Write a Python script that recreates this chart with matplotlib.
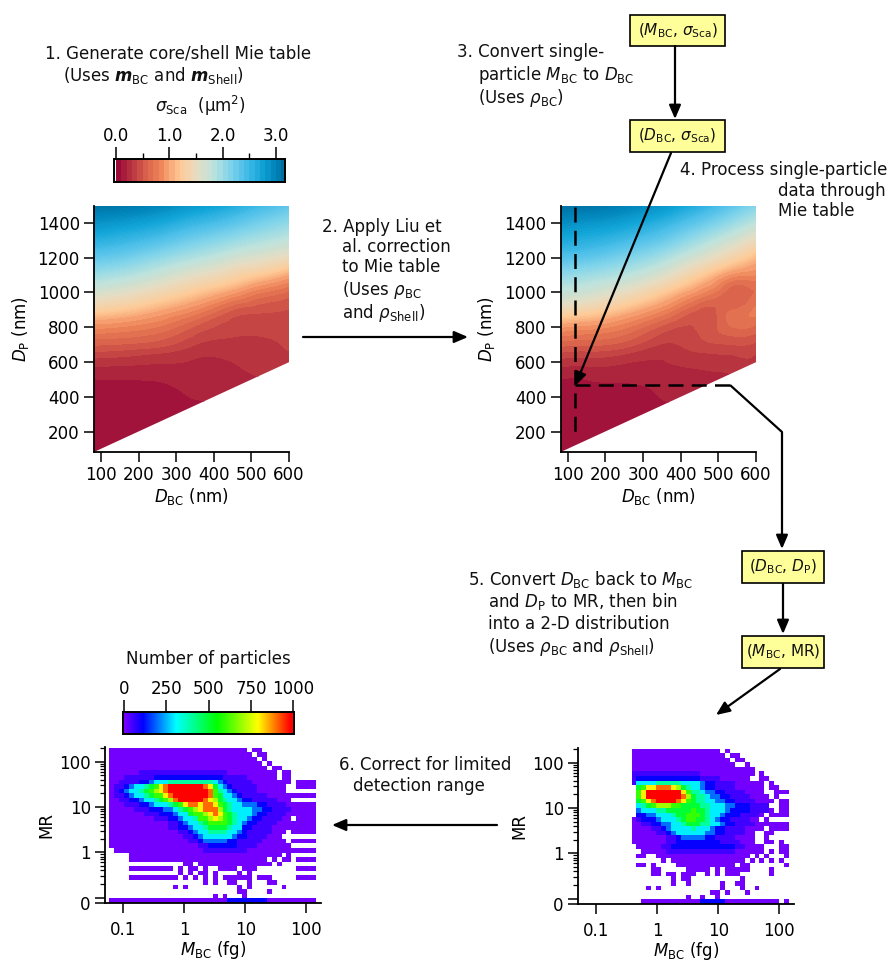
import numpy as np
import matplotlib
matplotlib.use("Agg")
import matplotlib.pyplot as plt
import matplotlib.tri as mtri
from matplotlib.colors import LinearSegmentedColormap, BoundaryNorm
from matplotlib.patches import Polygon, Rectangle

W, H = 893, 961
plt.rcParams['font.family'] = 'DejaVu Sans'
plt.rcParams['mathtext.fontset'] = 'dejavusans'
FS = 12

# ---- Mie table data: sigma_Sca
DP_ROWS = [50,100,200,300,400,450,500,550,600,650,700,750,800,900,1000,1100,1200,1300,1400,1500,1550]
DBC_LEFT = [80,150,250,350,450,520,600]
SIGMA_LEFT = [
 [0,0,0,.02,.06,.1,.12],
 [0,0,0,.02,.06,.1,.13],
 [0,0,.01,.04,.08,.11,.15],
 [.01,.01,.02,.06,.11,.13,.17],
 [.02,.02,.03,.105,.14,.16,.2],
 [.05,.05,.06,.125,.155,.18,.215],
 [.095,.1,.11,.145,.17,.195,.23],
 [.16,.16,.16,.165,.185,.215,.25],
 [.245,.235,.21,.185,.2,.235,.275],
 [.37,.35,.3,.23,.225,.255,.295],
 [.505,.49,.44,.3,.26,.275,.31],
 [.65,.63,.56,.385,.305,.3,.32],
 [.82,.79,.69,.48,.345,.335,.34],
 [1.25,1.18,1.02,.8,.5,.43,.395],
 [1.63,1.55,1.38,1.17,.93,.72,.57],
 [1.98,1.9,1.72,1.52,1.32,1.18,.98],
 [2.3,2.24,2.06,1.87,1.68,1.57,1.44],
 [2.62,2.55,2.4,2.2,2.02,1.9,1.77],
 [2.9,2.84,2.72,2.53,2.35,2.2,2.05],
 [3.15,3.13,3.02,2.85,2.67,2.5,2.32],
 [3.25,3.25,3.15,3.0,2.83,2.65,2.45],
]
DBC_RIGHT = [80,150,250,350,420,480,540,600]
SIGMA_RIGHT = [
 [0,0,0,.02,.05,.08,.1,.12],
 [0,0,0,.02,.05,.08,.1,.13],
 [0,0,.01,.04,.07,.09,.11,.15],
 [.01,.01,.02,.06,.09,.11,.14,.17],
 [.02,.02,.03,.105,.13,.15,.17,.2],
 [.05,.05,.06,.125,.15,.165,.19,.21],
 [.095,.1,.12,.15,.17,.18,.2,.24],
 [.16,.16,.16,.175,.185,.2,.22,.26],
 [.25,.24,.21,.195,.23,.25,.27,.275],
 [.38,.36,.31,.22,.275,.30,.31,.3],
 [.53,.51,.45,.29,.33,.38,.4,.37],
 [.7,.66,.58,.37,.36,.44,.5,.46],
 [.9,.85,.72,.47,.39,.46,.6,.56],
 [1.38,1.3,1.1,.82,.56,.47,.6,.72],
 [1.75,1.68,1.48,1.2,.95,.73,.52,.6],
 [2.05,1.98,1.83,1.58,1.33,1.1,.85,.8],
 [2.38,2.32,2.16,1.93,1.7,1.5,1.3,1.08],
 [2.68,2.62,2.48,2.27,2.05,1.85,1.65,1.45],
 [2.94,2.88,2.78,2.58,2.38,2.2,2.0,1.8],
 [3.17,3.15,3.05,2.88,2.7,2.52,2.32,2.12],
 [3.25,3.25,3.17,3.0,2.85,2.68,2.48,2.28],
]
SIGMA_TICKS = [0.0, 1.0, 2.0, 3.0]
COUNT_TICKS = [0, 250, 500, 750, 1000]
DBC_TICKS = [100,200,300,400,500,600]
DP_TICKS = [200,400,600,800,1000,1200,1400]

# ---- 2-D distributions: one character per bin, top row first, '.' = empty
CODE = {'.': np.nan, '0': 15, 'a': 60, '1': 110, '2': 200, '3': 300, '4': 400, '5': 500,
        '6': 600, '7': 700, '8': 800, '9': 900, 'X': 1000}
COUNTS_LEFT = [
"0000000000000000000000000000.00",
"00000000000000000000000000000.00",
"000000000000000000000000000000.0",
"0000000000000000000000000000000.0",
"00000000000000000000000000000000.00",
"000000aaaaaaaaaaaaaaaaaa0000000000.00",
"000aaaaaa11111111111111aaaaa000000.00",
"00aaaa112333444444444321aaaaa00000000.0000",
"0aa123345689XXXXXXX985321aaaaa000000..0000",
"0a1233456789XXXXXXXX964321aaaa000000",
"0aa1233456689XXXXXXX9653321aaaaa0000000000",
"00aa1123345679XXXXX9875433211aaaaa000",
"000aaa11233345689989986543322211aaaa000000",
"00000aaa1112234567899975433332211aaaa00000",
"0000000aaa1112335667898654333211aaaa000000",
"000000000aaa1123346678765433211aaaa00.0000",
"000000000000aa1233456666543211aaaa00000000",
"000000000000aa112334555543311aaaa000000000",
"00000000000000aa123344443321aaaaa000.00000",
"000000000000000aa12333333211aaaa000..",
"0000000000000000aa12222211aaaaa00000.00000",
"000000000000000000aa111111aaaa0000000",
".000000000000000000aaaaaaaaa00000000000000",
"...." "0000000000000000000000000000000" ".0",
"...." "0000000000000000000000000000" ".0.00.0000",
"..............." "00.000000000000000.0",
"...." "000000000.0.00.0..0000.000........0000",
".............." "0.0.00.0....0.0",
"...." "0000000000.0.0.0.0.000000.000.....0000",
"..................." "0.0..00..0...00",
"............." "0.0.........." "0.0......0",
".........................." "00....0",
"....................." "0.0...0",
"000000000000000000000000" "11111111" "0000000000",
]
P = ".........."
COUNTS_RIGHT = [
P + "000000000000000000.0",
P + "0000000000000000000.00",
P + "00000000000000000000.00",
P + "000000000000000000000..0",
P + "0000000000000000000000000",
P + "aaaaaaaaaaaaaa00000000000.0",
P + "a" "1111111111111" "aaaa" "000000" ".." "00",
P + "a3333444443333211" "aaaa" "000000" ".0",
P + ".5688999875433211" "aaaa" "000000" ".00",
P + ".68XXXXXXX8644322" "11" "aaaa" "0000" "..000",
P + ".68XXXXXXX9754432211" "aaaa" "0000" ".0",
P + ".5689XXXX98654433221" "1" "aaaa" "0000" ".00",
P + ".34567776655554433322" "111" "aaaa" "..00",
P + ".2333445555565543332" "1111" "aaaa" "0" ".00",
P + ".112233345566654332" "111" "aaaa" "0" ".0000",
P + "0a" "1112333456655432" "11" "aaaa" "00" ".0....0",
P + "00aa112233455544332" "11" "aaaa" "00000000",
P + "0000aa123333433321" "1" "aaaa" "0000" ".0000",
P + "00000aa123333332211" "aaaa" "00" "..00",
P + "0000000aa122222" "11" "aaaa" "0000" "..0",
P + "0000000aa111111111" "aaaa" "000" "..00.0",
P + ".00000aa" "1111111111111" "aa" "0000" "...00",
P + ".." "00000" "aaaaaaaaaaaaaa" "000000" ".0.00",
P + ".00.." "0000000000000000000" ".0.0...0",
P + "......0." "000000000000000" ".0.0.0.0.00",
P + ".00.0...." "000000000000" ".00.......0",
P + "....00.....00000.0.00000....0",
P + "....00.00.000..0.0.000......0",
P + "........0.00..........0",
P + "........0..0......0..00",
P + "...0.0............0...0..0",
P + "................00.0...0",
P + "...........0..0..0",
P + ".." "000000000000" "11111" "00000000000.0",
]
LOG_X_EDGES = (-1.224, 2.159)
LOG_Y_EDGES = (2.31, -1.115)
MR_TICK_LABELS = {0.076: '0', 1: '1', 10: '10', 100: '100'}

# ---- colours
cm_mie = LinearSegmentedColormap.from_list('mie', [
    (0.0, '#9b0a38'), (0.08, '#b93640'), (0.156, '#d65d4a'), (0.25, '#ee8458'),
    (0.31, '#f9a877'), (0.375, '#fdcb98'), (0.47, '#e7dcc2'), (0.57, '#bde3dc'), (0.66, '#87d6ea'),
    (0.76, '#4cbfea'), (0.86, '#11a5d8'), (0.95, '#0082b8'), (1.0, '#006f9f')])
cm_count = LinearSegmentedColormap.from_list('rb', [
    (0.0, '#8000ff'), (0.115, '#0000ff'), (0.31, '#00ffff'), (0.55, '#00ff00'),
    (0.79, '#ffff00'), (0.98, '#ff0000'), (1.0, '#ff0000')])
levels = np.arange(0, 3.21, 0.1)
norm = BoundaryNorm(levels, cm_mie.N, extend='neither', clip=True)
SIGMA_MAX = 3.2
contour_levels = np.r_[np.arange(0, 1.0, 0.1), np.arange(1.0, 3.21, 0.04)]
contour_colors = [cm_mie((a + b) / 2 / SIGMA_MAX) for a, b in zip(contour_levels[:-1], contour_levels[1:])]

fig = plt.figure(figsize=(W/100, H/100), dpi=100)
def add_ax(l, t, r, b, **k):
    return fig.add_axes([l/W, 1-b/H, (r-l)/W, (b-t)/H], **k)

def style(ax, lw=1.3):
    for s in ['top', 'right']:
        ax.spines[s].set_visible(False)
    for s in ['left', 'bottom']:
        ax.spines[s].set_linewidth(lw)
    ax.tick_params(which='major', length=7.2, width=1.1, labelsize=FS, pad=3)

def mie_panel(l, r, dbc, table):
    ax = add_ax(l, 205.7, r, 452)
    xmin, xmax, ymin, ymax = 81, 600, 85, 1497
    ax.set_xlim(xmin, xmax); ax.set_ylim(ymin, ymax)
    X, Y = np.meshgrid(dbc, DP_ROWS)
    tr = mtri.Triangulation(X.ravel().astype(float), Y.ravel().astype(float))
    z = np.array(table, float).ravel()
    interp = mtri.CubicTriInterpolator(tr, z, kind='min_E')
    rtri, rz = mtri.UniformTriRefiner(tr).refine_field(z, interp, subdiv=4)
    rz = np.clip(rz, 0.001, SIGMA_MAX - 0.001)
    cs = ax.tricontourf(rtri, rz, levels=contour_levels, colors=contour_colors)
    clip = Polygon([(xmin, ymin), (xmax, xmax), (xmax, ymax), (xmin, ymax)],
                   transform=ax.transData, fc='none', ec='none')
    ax.add_patch(clip)
    cs.set_clip_path(clip)
    ax.set_xticks(DBC_TICKS); ax.set_yticks(DP_TICKS)
    style(ax)
    ax.set_xlabel(r'$D_{\mathrm{BC}}$ (nm)', fontsize=FS, labelpad=1)
    ax.set_ylabel(r'$D_{\mathrm{P}}$ (nm)', fontsize=FS, labelpad=5)
    return ax

ax1 = mie_panel(94, 289, DBC_LEFT, SIGMA_LEFT)
ax2 = mie_panel(560.7, 756, DBC_RIGHT, SIGMA_RIGHT)

def count_panel(l, t, r, b, rows):
    ax = add_ax(l, t, r, b)
    ax.set_xscale('log'); ax.set_yscale('log')
    ax.set_xlim(10**(-1.295), 10**2.236); ax.set_ylim(0.076, 208)
    Z = np.array([[CODE[c] for c in row.ljust(42, '.')[:42]] for row in rows])
    xe = np.logspace(LOG_X_EDGES[0], LOG_X_EDGES[1], 43)
    ye = np.logspace(LOG_Y_EDGES[0], LOG_Y_EDGES[1], len(rows)+1)
    ax.pcolormesh(xe, ye, np.ma.masked_invalid(Z), cmap=cm_count, vmin=0, vmax=1000, shading='flat')
    style(ax)
    ax.set_xticks([0.1, 1, 10, 100]); ax.set_xticklabels(['0.1', '1', '10', '100'])
    ax.xaxis.set_minor_locator(matplotlib.ticker.NullLocator())
    ax.set_yticks(list(MR_TICK_LABELS) + [0.1])
    ax.set_yticklabels(list(MR_TICK_LABELS.values()) + [''])
    ax.set_yticks([a*b for b in (0.1, 1, 10) for a in range(2, 10)] + [200], minor=True)
    ax.yaxis.set_minor_formatter(matplotlib.ticker.NullFormatter())
    ax.tick_params(axis='y', which='minor', length=3.6, width=0.9)
    ax.tick_params(axis='x', pad=6)
    ax.set_xlabel(r'$M_{\mathrm{BC}}$ (fg)', fontsize=FS, labelpad=0)
    ax.set_ylabel('MR', fontsize=FS, labelpad=3)
    return ax

ax3 = count_panel(105, 747.3, 320.7, 903, COUNTS_LEFT)
ax4 = count_panel(578, 748.3, 793.7, 904, COUNTS_RIGHT)

# ---- colour bars
cb1 = add_ax(114.3, 159.3, 285, 181.7)
vals = np.array([levels[:-1] + 0.05])
cb1.pcolormesh(levels, [0, 1], vals, cmap=cm_mie, norm=norm)
cb1.set_xlim(-0.03, 3.17); cb1.set_yticks([])
cb1.xaxis.tick_top()
cb1.set_xticks(SIGMA_TICKS); cb1.set_xticklabels(['0.0', '1.0', '2.0', '3.0'])
cb1.set_xticks([0.5, 1.5, 2.5], minor=True)
cb1.tick_params(which='major', length=8.5, width=1.1, labelsize=FS, pad=2)
cb1.tick_params(which='minor', length=4.5, width=1.0)
for s in cb1.spines.values(): s.set_linewidth(1.4)

cb2 = add_ax(123.3, 712.3, 294, 733.7)
cb2.imshow(np.linspace(0, 1000, 256)[None, :], cmap=cm_count, aspect='auto', extent=[-5, 1003, 0, 1], vmin=0, vmax=1000)
cb2.set_yticks([]); cb2.xaxis.tick_top()
cb2.set_xticks(COUNT_TICKS)
cb2.tick_params(which='major', length=8.5, width=1.1, labelsize=FS, pad=2)
for s in cb2.spines.values(): s.set_linewidth(1.4)

# ---- pixel-space overlay for annotation
ov = fig.add_axes([0, 0, 1, 1], zorder=10)
ov.set_xlim(0, W); ov.set_ylim(H, 0); ov.axis('off'); ov.patch.set_alpha(0)

def T(x, y, s, **k):
    k.setdefault('ha', 'left')
    ov.text(x, y, s, fontsize=k.pop('fs', FS), va='center', color='#111111', **k)

rBC = r'$\rho_{\mathrm{BC}}$'; rSh = r'$\rho_{\mathrm{Shell}}$'
MBC = r'$M_{\mathrm{BC}}$'; DBC = r'$D_{\mathrm{BC}}$'; DP = r'$D_{\mathrm{P}}$'
T(45, 53, '1. Generate core/shell Mie table')
T(63, 75, r'(Uses $\mathbfit{m}_{\mathrm{BC}}$ and $\mathbfit{m}_{\mathrm{Shell}}$)')
T(200, 106, r'$\sigma_{\mathrm{Sca}}$  (µm$^{2}$)', ha='center')
T(208, 659, 'Number of particles', ha='center')
T(322, 227, '2. Apply Liu et')
T(342, 247, 'al. correction')
T(342, 267, 'to Mie table')
T(342, 290, '(Uses ' + rBC)
T(342, 313, 'and ' + rSh + ')')
T(457, 52, '3. Convert single-')
T(478, 75, 'particle ' + MBC + ' to ' + DBC)
T(478, 98, '(Uses ' + rBC + ')')
T(680, 170, '4. Process single-particle')
T(778, 191, 'data through')
T(778, 211, 'Mie table')
T(468, 579, '5. Convert ' + DBC + ' back to ' + MBC)
T(488, 602, 'and ' + DP + ' to MR, then bin')
T(488, 624, 'into a 2-D distribution')
T(488, 647, '(Uses ' + rBC + ' and ' + rSh + ')')
T(339, 765, '6. Correct for limited')
T(353, 786, 'detection range')

def box(l, t, r, b, s):
    ov.add_patch(Rectangle((l, t), r-l, b-t, fc='#ffff99', ec='black', lw=1.2))
    T((l+r)/2, (t+b)/2, s, ha='center', fs=11)
box(630, 15, 725, 46, r'($M_{\mathrm{BC}}$, $\sigma_{\mathrm{Sca}}$)')
box(630, 120, 725, 152, r'($D_{\mathrm{BC}}$, $\sigma_{\mathrm{Sca}}$)')
box(742, 551, 824, 583, r'($D_{\mathrm{BC}}$, $D_{\mathrm{P}}$)')
box(742, 636, 824, 668, r'($M_{\mathrm{BC}}$, MR)')

def arrow(a, b):
    ov.annotate('', xy=b, xytext=a, arrowprops=dict(
        arrowstyle='-|>,head_length=0.75,head_width=0.32', lw=1.6, color='black',
        shrinkA=0, shrinkB=0, mutation_scale=11))
arrow((675, 46), (675, 119))
arrow((303, 337), (468, 337))
arrow((671, 153), (575, 386))
arrow((783, 584), (783, 634))
arrow((780, 669), (716, 715))
arrow((497, 825), (332, 825))
ov.plot([730, 782, 782], [385, 432, 500], color='black', lw=1.6, solid_capstyle='butt')
arrow((782, 500), (782, 549))
ov.plot([574.5, 574.5], [207, 438], color='black', lw=1.8, dashes=(6, 3.3))
ov.plot([575, 737], [385, 385], color='black', lw=1.8, dashes=(6, 3.3))

fig.savefig('out.png', dpi=100)
